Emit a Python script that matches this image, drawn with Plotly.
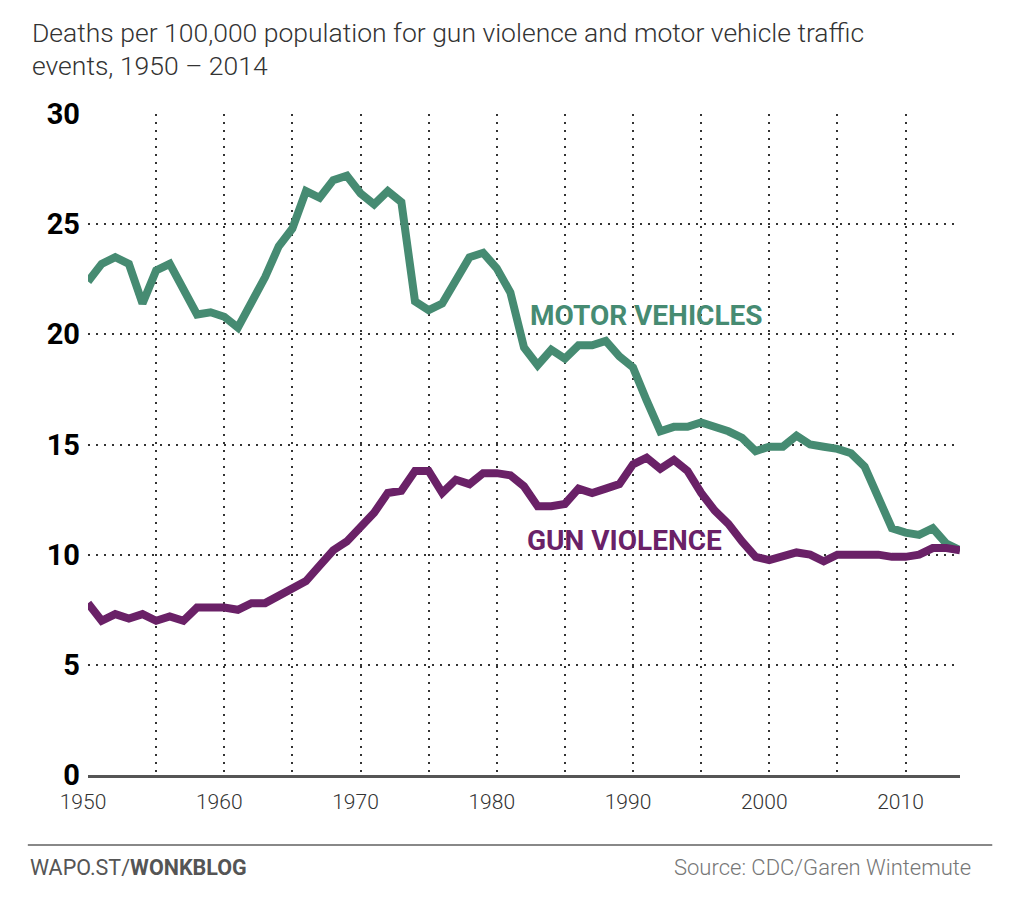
import plotly.graph_objects as go

years = list(range(1950, 2015))

motor_vehicles = [
    22.4, 23.2, 23.5, 23.2, 21.4, 22.9, 23.2, 22.0, 20.9, 21.0,
    20.8, 20.3, 21.5, 22.6, 24.0, 24.8, 26.5, 26.2, 27.0, 27.2,
    26.4, 25.9, 26.5, 26.0, 21.5, 21.1, 21.4, 22.5, 23.5, 23.7,
    23.0, 21.9, 19.4, 18.6, 19.3, 18.9, 19.5, 19.5, 19.7, 19.0,
    18.5, 17.0, 15.6, 15.8, 15.8, 16.0, 15.8, 15.6, 15.3, 14.7,
    14.9, 14.9, 15.4, 15.0, 14.9, 14.8, 14.6, 14.0, 12.6, 11.2,
    11.0, 10.9, 11.2, 10.5, 10.2,
]

gun_violence = [
    7.8, 7.0, 7.3, 7.1, 7.3, 7.0, 7.2, 7.0, 7.6, 7.6,
    7.6, 7.5, 7.8, 7.8, 8.1, 8.4, 8.8, 9.5, 10.2, 10.6,
    11.3, 11.9, 12.8, 12.9, 13.8, 13.8, 12.8, 13.4, 13.2, 13.7,
    13.7, 13.6, 13.1, 12.2, 12.2, 12.3, 13.0, 12.8, 13.0, 13.2,
    14.1, 14.4, 13.9, 14.3, 13.8, 12.8, 12.0, 11.4, 10.6, 9.9,
    9.75, 9.9, 10.1, 10.0, 9.7, 10.0, 10.0, 10.0, 10.0, 9.9,
    9.9, 10.0, 10.3, 10.3, 10.2,
]

y_ticks = [0, 5, 10, 15, 20, 25, 30]
x_label_years = [1950, 1960, 1970, 1980, 1990, 2000, 2010]
x_grid_years = list(range(1950, 2015, 5))

title_lines = [
    "Deaths per 100,000 population for gun violence and motor vehicle traffic",
    "events, 1950 – 2014",
]

GREEN = "#468b72"
PURPLE = "#6a2167"
FONT = "Roboto, sans-serif"

fig = go.Figure()
fig.add_trace(go.Scatter(x=years, y=motor_vehicles, mode="lines",
                         line=dict(color=GREEN, width=8), hoverinfo="skip"))
fig.add_trace(go.Scatter(x=years, y=gun_violence, mode="lines",
                         line=dict(color=PURPLE, width=8), hoverinfo="skip"))

fig.update_layout(
    width=1016, height=898,
    margin=dict(l=80, r=64, t=106, b=131),
    paper_bgcolor="white", plot_bgcolor="white",
    showlegend=False,
    font=dict(family=FONT, color="#333"),
)

fig.update_xaxes(
    range=[1950, 2014],
    tickvals=x_grid_years,
    ticktext=[str(y) if y in x_label_years else "" for y in x_grid_years],
    showgrid=True, gridcolor="#333", gridwidth=1.6, griddash="2px,6px",
    showline=True, linecolor="#555", linewidth=3,
    ticks="", tickfont=dict(size=21, color="#333", family=FONT, weight=300),
    ticklabelstandoff=6, ticklabelshift=-5,
    zeroline=False,
)
fig.update_yaxes(
    range=[0, 30],
    tickvals=y_ticks,
    showgrid=True, gridcolor="#333", gridwidth=1.6, griddash="2px,6px",
    showline=False, zeroline=False,
    ticks="", tickfont=dict(size=29, color="#000", family=FONT, weight="bold"),
    ticklabelstandoff=7,
)

fig.add_annotation(x=1982.3, y=20.86, xref="x", yref="y", text="<b>MOTOR VEHICLES</b>",
                   showarrow=False, xanchor="left", yanchor="middle",
                   font=dict(size=28, color=GREEN, family=FONT))
fig.add_annotation(x=1982.1, y=10.66, xref="x", yref="y", text="<b>GUN VIOLENCE</b>",
                   showarrow=False, xanchor="left", yanchor="middle",
                   font=dict(size=28, color=PURPLE, family=FONT))

# title (two separate lines)
for line_text, ypx in zip(title_lines, [33, 66]):
    fig.add_annotation(x=(30 - 88) / 872, y=(775 - ypx) / 661, xref="paper", yref="paper",
                       text=line_text, showarrow=False, xanchor="left", yanchor="middle",
                       font=dict(size=26.5, color="#333", family=FONT, weight=300))

# footer
fig.add_shape(type="line", xref="paper", yref="paper",
              x0=-0.069, x1=1.037, y0=-0.106, y1=-0.106,
              line=dict(color="#888", width=2))
fig.add_annotation(x=(28 - 88) / 872, y=-0.14, xref="paper", yref="paper",
                   text="WAPO.ST/<b>WONKBLOG</b>", showarrow=False,
                   xanchor="left", yanchor="middle",
                   font=dict(size=21.5, color="#555", family=FONT))
fig.add_annotation(x=(973 - 88) / 872, y=-0.14, xref="paper", yref="paper",
                   text="Source: CDC/Garen Wintemute", showarrow=False,
                   xanchor="right", yanchor="middle",
                   font=dict(size=22, color="#777", family=FONT, weight=300))

fig.write_html("out.html")
